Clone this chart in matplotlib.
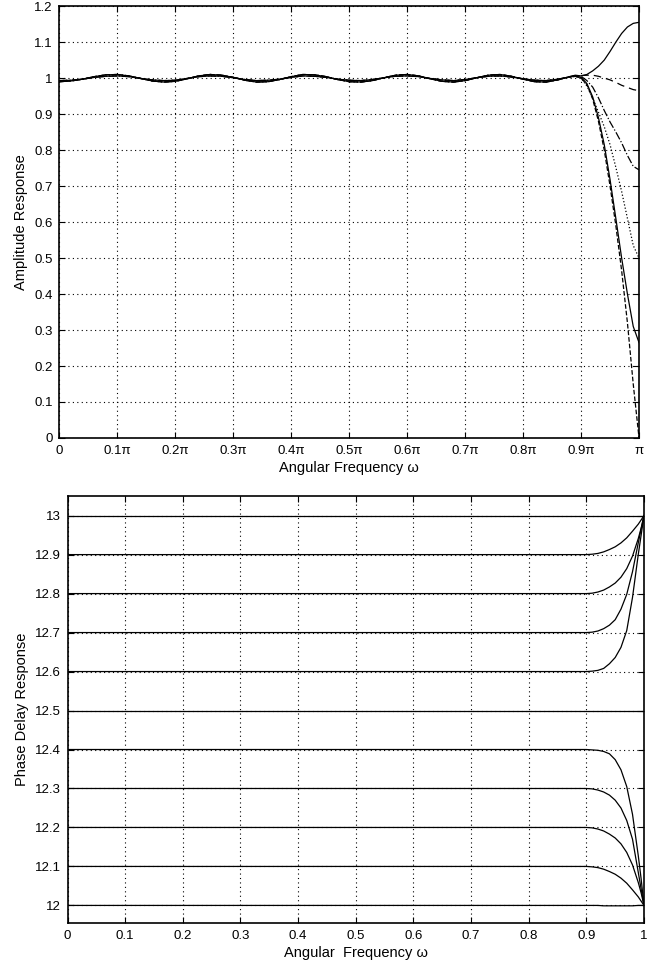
import numpy as np
import matplotlib
matplotlib.use('Agg')
import matplotlib.pyplot as plt

plt.rcParams['font.family'] = ['Liberation Sans', 'DejaVu Sans']

# Частоты (в долях pi) для амплитудной характеристики
amp_freq_pass = [0.00, 0.02, 0.04, 0.06, 0.08, 0.10, 0.12, 0.14, 0.16, 0.18,
                 0.20, 0.22, 0.24, 0.26, 0.28, 0.30, 0.32, 0.34, 0.36, 0.38,
                 0.40, 0.42, 0.44, 0.46, 0.48, 0.50, 0.52, 0.54, 0.56, 0.58,
                 0.60, 0.62, 0.64, 0.66, 0.68, 0.70, 0.72, 0.74, 0.76, 0.78,
                 0.80, 0.82, 0.84, 0.86, 0.88]
amp_freq_edge = [0.89, 0.90, 0.91, 0.92, 0.93, 0.94, 0.95, 0.96, 0.97, 0.98, 0.99, 1.00]

# Пульсации в полосе пропускания (две группы кривых)
ripple_a = [0.990, 0.992, 0.997, 1.004, 1.009, 1.010, 1.006, 0.999, 0.992, 0.989,
            0.991, 0.998, 1.006, 1.010, 1.008, 1.002, 0.994, 0.989, 0.990, 0.996,
            1.004, 1.010, 1.009, 1.004, 0.996, 0.990, 0.989, 0.993, 1.001, 1.008,
            1.010, 1.006, 0.998, 0.991, 0.989, 0.993, 1.001, 1.008, 1.010, 1.005,
            0.997, 0.990, 0.989, 0.995, 1.004]
ripple_b = [0.993, 0.994, 0.997, 1.002, 1.005, 1.006, 1.004, 0.999, 0.995, 0.993,
            0.994, 0.999, 1.004, 1.006, 1.005, 1.001, 0.996, 0.993, 0.994, 0.997,
            1.002, 1.006, 1.005, 1.002, 0.997, 0.994, 0.993, 0.996, 1.001, 1.005,
            1.006, 1.004, 0.999, 0.995, 0.993, 0.996, 1.001, 1.005, 1.006, 1.003,
            0.998, 0.994, 0.993, 0.997, 1.003]

# Поведение у края полосы для разных дробных задержек
edge_rise = [1.008, 1.006, 1.010, 1.020, 1.033, 1.050, 1.074, 1.100, 1.124, 1.142, 1.152, 1.155]
edge_dash_hi = [1.006, 1.007, 1.008, 1.008, 1.005, 1.000, 0.995, 0.988, 0.980, 0.974, 0.968, 0.965]
edge_dashdot = [1.006, 1.005, 0.993, 0.975, 0.945, 0.910, 0.878, 0.850, 0.820, 0.785, 0.755, 0.745]
edge_dotted = [1.004, 1.000, 0.978, 0.945, 0.905, 0.865, 0.815, 0.752, 0.685, 0.610, 0.535, 0.500]
edge_fall = [1.006, 1.002, 0.985, 0.948, 0.890, 0.815, 0.718, 0.610, 0.500, 0.400, 0.310, 0.265]
edge_dash_lo = [1.005, 1.000, 0.982, 0.942, 0.880, 0.800, 0.700, 0.590, 0.465, 0.320, 0.150, 0.000]

amp_curves = [
    (ripple_a, edge_rise, '-'),
    (ripple_b, edge_dash_hi, (0, (6, 4))),
    (ripple_a, edge_dashdot, '-.'),
    (ripple_b, edge_dotted, ':'),
    (ripple_b, edge_fall, '-'),
    (ripple_a, edge_dash_lo, '--'),
]

# Фазовая задержка: частоты (в долях pi)
pd_freq = [0.0, 0.1, 0.2, 0.3, 0.4, 0.5, 0.6, 0.7, 0.8, 0.9,
           0.91, 0.92, 0.93, 0.94, 0.95, 0.96, 0.97, 0.98, 0.99, 0.995, 1.0]
pd_delays = [12.0, 12.1, 12.2, 12.3, 12.4, 12.5, 12.6, 12.7, 12.8, 12.9, 13.0]

# Значения начиная с 0.9 для каждой задержки
pd_edge = {
    12.0: [12.000, 12.000, 11.999, 11.999, 11.999, 11.999, 11.999, 11.999, 12.000, 12.000, 12.000],
    12.1: [12.100, 12.099, 12.097, 12.093, 12.087, 12.080, 12.070, 12.057, 12.040, 12.022, 12.011, 12.000],
    12.2: [12.200, 12.199, 12.196, 12.191, 12.183, 12.173, 12.158, 12.136, 12.104, 12.059, 12.032, 12.000],
    12.3: [12.300, 12.299, 12.296, 12.291, 12.283, 12.270, 12.250, 12.218, 12.170, 12.085, 12.042, 12.000],
    12.4: [12.400, 12.399, 12.398, 12.395, 12.389, 12.374, 12.348, 12.305, 12.234, 12.128, 12.068, 12.000],
    12.5: [12.500, 12.500, 12.500, 12.500, 12.500, 12.500, 12.500, 12.500, 12.500, 12.500, 12.500, 12.500],
    12.6: [12.600, 12.601, 12.603, 12.608, 12.620, 12.636, 12.662, 12.705, 12.790, 12.900, 12.950, 13.000],
    12.7: [12.700, 12.701, 12.704, 12.710, 12.719, 12.733, 12.760, 12.798, 12.856, 12.930, 12.966, 13.000],
    12.8: [12.800, 12.801, 12.804, 12.809, 12.817, 12.827, 12.842, 12.864, 12.896, 12.941, 12.968, 13.000],
    12.9: [12.900, 12.901, 12.903, 12.907, 12.913, 12.920, 12.930, 12.943, 12.960, 12.978, 12.989, 13.000],
    13.0: [13.000, 13.000, 13.000, 13.000, 13.000, 13.000, 13.000, 13.000, 13.000, 13.000, 13.000, 13.000],
}

fig = plt.figure(figsize=(6.66, 9.69), dpi=100)

# ---- Амплитудная характеристика ----
ax1 = fig.add_axes([0.0893, 0.548, 0.8702, 0.4457])
for ripple, edge, ls in amp_curves:
    w = np.array(amp_freq_pass + amp_freq_edge) * np.pi
    ax1.plot(w, ripple + edge, color='black', linestyle=ls, linewidth=0.9)

ax1.set_xlim(0, np.pi)
ax1.set_ylim(0, 1.2)
xt = np.arange(11)
ax1.set_xticks(xt * 0.1 * np.pi)
ax1.set_xticklabels(['0'] + ['0.%dπ' % k for k in range(1, 10)] + ['π'])
ax1.set_yticks(np.arange(0, 1.21, 0.1))
ax1.set_yticklabels(['0', '0.1', '0.2', '0.3', '0.4', '0.5', '0.6', '0.7', '0.8',
                     '0.9', '1', '1.1', '1.2'])
ax1.set_xlabel('Angular Frequency ω', fontsize=10.5, labelpad=3)
ax1.set_ylabel('Amplitude Response', fontsize=10.5, labelpad=4)

# ---- Фазовая задержка ----
ax2 = fig.add_axes([0.1014, 0.0475, 0.8656, 0.4405])
for d in pd_delays:
    n_pass = 9 if d != 12.0 else 10
    vals = [d] * n_pass + pd_edge[d]
    ax2.plot(pd_freq, vals, color='black', linewidth=0.9)

ax2.set_xlim(0, 1)
ax2.set_ylim(11.955, 13.05)
ax2.set_xticks(np.arange(0, 1.01, 0.1))
ax2.set_xticklabels(['0', '0.1', '0.2', '0.3', '0.4', '0.5', '0.6', '0.7', '0.8', '0.9', '1'])
ax2.set_yticks(pd_delays)
ax2.set_yticklabels(['12', '12.1', '12.2', '12.3', '12.4', '12.5', '12.6', '12.7',
                     '12.8', '12.9', '13'])
ax2.set_xlabel('Angular  Frequency ω', fontsize=10.5, labelpad=3)
ax2.set_ylabel('Phase Delay Response', fontsize=10.5, labelpad=4)

for ax in (ax1, ax2):
    ax.grid(True, color='black', linestyle=(0, (1, 3)), linewidth=0.8)
    ax.tick_params(direction='in', length=4, width=0.8, top=True, right=True,
                   labelsize=9.5, pad=5)
    for s in ax.spines.values():
        s.set_linewidth(1.2)

plt.savefig('out.png', dpi=100)
